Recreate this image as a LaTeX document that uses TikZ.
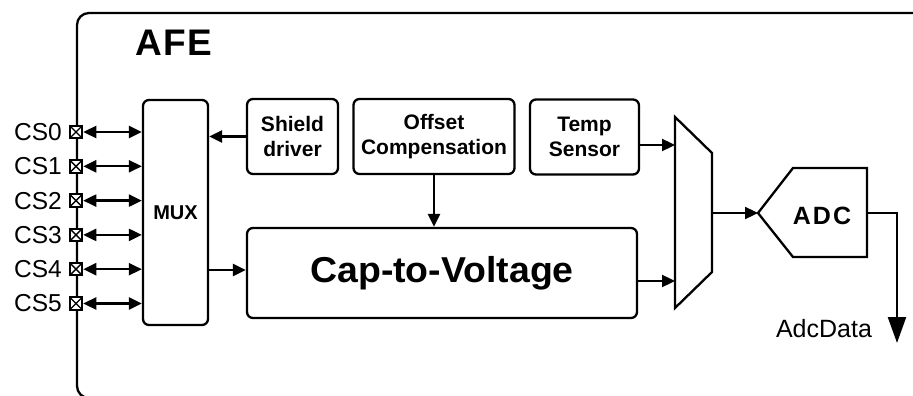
\documentclass[tikz,border=0pt]{standalone}
\usepackage{fontspec}
\setmainfont{Liberation Sans}
\newfontfamily\capfont[FakeStretch=1.04]{Liberation Sans}
\usetikzlibrary{arrows.meta}
\begin{document}
\begin{tikzpicture}[x=1pt,y=-1pt,line width=2.3pt,
  box/.style={draw,rounded corners=6pt,line width=2.3pt,inner sep=0pt},
  lbl/.style={font=\fontsize{21}{25}\selectfont\bfseries,align=center},
  arr/.style={-{Triangle[length=13pt,width=12pt]},line width=2.3pt},
  darr/.style={{Triangle[length=13pt,width=12pt]}-{Triangle[length=13pt,width=12pt]},line width=2.3pt},
  bigarr/.style={-{Triangle[length=26pt,width=18pt]},line width=2.3pt},
  pinbox/.style={draw,line width=2pt,minimum size=12.5pt,inner sep=0pt,fill=white,
    path picture={\draw[line width=1.4pt] (path picture bounding box.south west) -- (path picture bounding box.north east)
      (path picture bounding box.north west) -- (path picture bounding box.south east);}},
  cslbl/.style={font=\fontsize{24.5}{27}\selectfont,anchor=east,inner sep=0pt},
]
\useasboundingbox (0,0) rectangle (913,396);
\clip (0,0) rectangle (913,396);
% outer frame
\draw[rounded corners=12pt,line width=2.3pt] (940,13) -- (77,13) -- (77,398) -- (940,398);
\node[font=\fontsize{37}{40}\selectfont\bfseries,inner sep=0pt] (afe) at (173.5,43) {A\hspace{1.5pt}F\hspace{1.5pt}E};
% blocks
\node[box,minimum width=65pt,minimum height=225pt] (mux) at (175.5,212.5) {};
\node[lbl,font=\fontsize{20}{24}\selectfont\bfseries] (muxlbl) at (175.5,213) {MUX};
\node[box,lbl,minimum width=91pt,minimum height=75pt] (shield) at (292.5,136.5) {Shield\\driver};
\node[box,lbl,minimum width=161pt,minimum height=75pt] (offset) at (434,136.5) {Offset\\Compensation};
\node[box,lbl,minimum width=109pt,minimum height=75pt] (temp) at (584.5,137) {Temp\\Sensor};
\node[box,minimum width=390pt,minimum height=90pt,font=\capfont\fontsize{36}{40}\selectfont\bfseries] (c2v) at (442,273) {Cap-to-Voltage};
% pins
\foreach \i in {0,...,5}{
  \pgfmathsetmacro{\yy}{132+34.3*\i}
  \node[pinbox] (pin\i) at (76,\yy) {};
  \node[cslbl] (cs\i) at (63,\yy) {CS\i};
  \draw[darr] (pin\i.east) -- (mux.west |- pin\i.east);
}
% analog mux
\coordinate (m2a) at (675,117);
\coordinate (m2b) at (712,153);
\coordinate (m2c) at (712,272);
\coordinate (m2d) at (675,308);
\draw[line width=2.3pt,line join=miter] (m2a) -- (m2b) -- (m2c) -- (m2d) -- cycle;
\coordinate (m2in1) at (675,145);
\coordinate (m2in2) at (675,281);
\coordinate (m2out) at (712,213);
% ADC
\coordinate (adcin) at (758,213);
\coordinate (adcout) at (867,213);
\draw[line width=2.3pt,line join=miter] (adcin) -- (793,168) -- (867,168) -- (867,257) -- (793,257) -- cycle;
\node[font=\fontsize{25}{28}\selectfont\bfseries,inner sep=0pt] (adc) at (822,216) {A\hspace{2pt}D\hspace{2pt}C};
\coordinate (dout) at (897,343);
\node[font=\fontsize{25}{28}\selectfont,inner sep=0pt] (adcdata) at (824,329) {AdcData};
% connectors
\draw[arr] (shield.west) -- (mux.east |- shield.west);
\draw[arr] (offset.south) -- (c2v.north -| offset.south);
\draw[arr] (temp.east |- m2in1) -- (m2in1);
\draw[arr] (c2v.east |- m2in2) -- (m2in2);
\draw[arr] (mux.east |- 0,270) -- (c2v.west |- 0,270);
\draw[arr] (m2out) -- (adcin);
\draw[bigarr] (adcout) -| (dout);
\end{tikzpicture}
\end{document}
